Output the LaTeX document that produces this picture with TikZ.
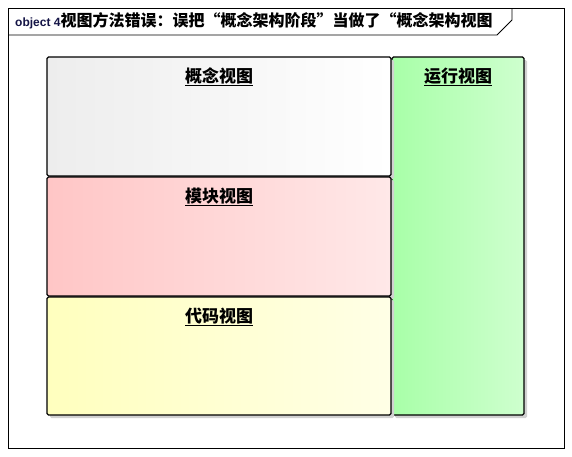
\documentclass[tikz,border=0pt]{standalone}
\usepackage{fontspec}
\setmainfont{Liberation Sans}
\newfontfamily\cjk{Noto Sans CJK SC}
\usepackage{xcolor}
\usetikzlibrary{shadows}
\definecolor{framenavy}{RGB}{20,20,70}
\definecolor{conceptL}{RGB}{237,237,237}
\definecolor{moduleL}{RGB}{255,198,198}
\definecolor{moduleR}{RGB}{255,232,232}
\definecolor{codeL}{RGB}{255,255,190}
\definecolor{codeR}{RGB}{255,255,230}
\definecolor{runL}{RGB}{168,255,168}
\definecolor{runR}{RGB}{206,255,206}
\tikzset{
	viewbox/.style={
			draw=black, line width=1.1pt, rounded corners=1.5pt, inner sep=0pt,
			drop shadow={shadow xshift=3pt, shadow yshift=-3pt, fill=black!18, opacity=1}
		},
	viewlabel/.style={
			anchor=north, inner sep=0pt, font=\cjk\bfseries\fontsize{17}{19}\selectfont
		}
}

\begin{document}
\begin{tikzpicture}[x=1pt, y=-1pt]
		\useasboundingbox (0,0) rectangle (572,456);

		% Frame and title tab
		\draw[line width=0.8pt] (8,8) rectangle (564,448);
		\draw[line width=0.8pt] (8,35) -- (497,35) -- (512,20) -- (512,8);
		\node[anchor=west, inner sep=0pt] (title) at (15,21)
		{\textcolor{framenavy}{\bfseries\fontsize{12}{14}\selectfont object 4}\cjk\bfseries\fontsize{16}{18}\selectfont 视图方法错误：误把“概念架构阶段”当做了“概念架构视图};

		% View boxes
		\node[viewbox, left color=runL, right color=runR,
			minimum width=132pt, minimum height=358pt] (run) at (458,236) {};
		\node[viewbox, left color=conceptL, right color=white,
			minimum width=344pt, minimum height=119pt] (concept) at (219,116.5) {};
		\node[viewbox, left color=moduleL, right color=moduleR,
			minimum width=344pt, minimum height=119pt] (module) at (219,236.5) {};
		\node[viewbox, left color=codeL, right color=codeR,
			minimum width=344pt, minimum height=118pt] (code) at (219,356) {};

		% Labels
		\node[viewlabel] (conceptname) at ([yshift=-11pt]concept.north) {\underline{概念视图}};
		\node[viewlabel] (modulename) at ([yshift=-11pt]module.north) {\underline{模块视图}};
		\node[viewlabel] (codename) at ([yshift=-11pt]code.north) {\underline{代码视图}};
		\node[viewlabel] (runname) at ([yshift=-11pt]run.north) {\underline{运行视图}};
	\end{tikzpicture}
\end{document}
